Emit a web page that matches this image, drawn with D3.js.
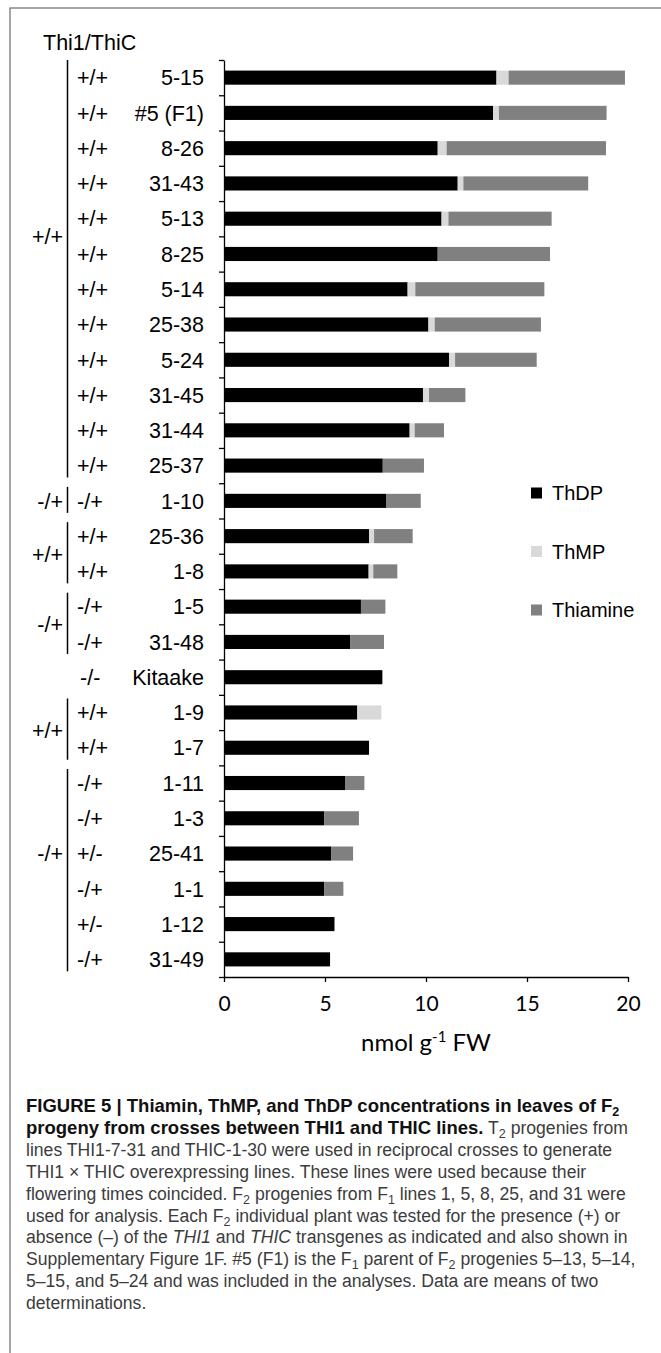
<!DOCTYPE html>
<html>
<head>
<meta charset="utf-8">
<script src="https://cdn.jsdelivr.net/npm/d3@7"></script>
<style>
  body { margin: 0; background: #fff; }
  svg { display: block; }
</style>
</head>
<body>
<svg id="chart" width="661" height="1353"></svg>
<script>
'use strict';

// F2 lines, top to bottom
const lines = ['5-15', '#5 (F1)', '8-26', '31-43', '5-13', '8-25', '5-14', '25-38', '5-24',
  '31-45', '31-44', '25-37', '1-10', '25-36', '1-8', '1-5', '31-48', 'Kitaake', '1-9', '1-7',
  '1-11', '1-3', '25-41', '1-1', '1-12', '31-49'];
const genotypes = ['+/+', '+/+', '+/+', '+/+', '+/+', '+/+', '+/+', '+/+', '+/+', '+/+', '+/+',
  '+/+', '-/+', '+/+', '+/+', '-/+', '-/+', '-/-', '+/+', '+/+', '-/+', '-/+', '+/-', '-/+',
  '+/-', '-/+'];

// nmol g-1 FW
const thdp = [13.49, 13.32, 10.58, 11.57, 10.77, 10.58, 9.09, 10.12, 11.15, 9.85, 9.19, 7.86,
  8.02, 7.18, 7.16, 6.78, 6.24, 7.84, 6.60, 7.18, 5.99, 4.97, 5.30, 4.97, 5.47, 5.25];
const thmp = [0.60, 0.29, 0.44, 0.28, 0.34, 0, 0.38, 0.31, 0.29, 0.30, 0.25, 0,
  0, 0.25, 0.23, 0, 0, 0, 1.19, 0, 0, 0, 0, 0, 0, 0];
const thiamine = [5.76, 5.33, 7.89, 6.18, 5.11, 5.56, 6.39, 5.26, 4.04, 1.80, 1.45, 2.04,
  1.72, 1.91, 1.19, 1.21, 1.68, 0, 0, 0, 0.96, 1.71, 1.09, 0.94, 0, 0];

// parent genotype brackets (row index ranges)
const groupLabels = ['+/+', '-/+', '+/+', '-/+', '+/+', '-/+'];
const groupFirst = [0, 12, 13, 15, 18, 20];
const groupLast = [11, 12, 14, 16, 19, 25];
const groupLabelRow = [4.5, 12, 13.5, 15.5, 18.5, 22];

const seriesKeys = ['ThDP', 'ThMP', 'Thiamine'];
const seriesColors = ['#000000', '#d9d9d9', '#808080'];
const xTicks = [0, 5, 10, 15, 20];

const svg = d3.select('#chart');
const labelFont = '"Liberation Sans", Arial, sans-serif';

// frame
svg.append('rect')
  .attr('x', 10).attr('y', 8)
  .attr('width', 700).attr('height', 1400)
  .attr('fill', 'none')
  .attr('stroke', '#777')
  .attr('stroke-width', 1.3);

const x = d3.scaleLinear().domain([0, 20]).range([224, 628]);
const y = d3.scaleBand().domain(lines).range([60, 977]).paddingInner(0.6).paddingOuter(0.3);
const rowEdge = d3.scaleLinear().domain([0, lines.length]).range([60, 977]);

const table = lines.map((name, i) => ({name: name, ThDP: thdp[i], ThMP: thmp[i], Thiamine: thiamine[i]}));
const stacked = d3.stack().keys(seriesKeys)(table);

svg.append('g')
  .selectAll('g')
  .data(stacked)
  .join('g')
  .attr('fill', (d, i) => seriesColors[i])
  .selectAll('rect')
  .data(d => d.filter(p => p[1] - p[0] > 0))
  .join('rect')
  .attr('x', d => x(d[0]))
  .attr('width', d => x(d[1]) - x(d[0]))
  .attr('y', d => y(d.data.name))
  .attr('height', y.bandwidth());

// value axis
const xAxis = svg.append('g')
  .attr('transform', `translate(0,${rowEdge(lines.length)})`)
  .call(d3.axisBottom(x).tickValues(xTicks).tickSize(5).tickSizeOuter(0).tickPadding(14));
xAxis.selectAll('text')
  .attr('font-family', 'Lato, sans-serif')
  .attr('font-size', 21)
  .attr('fill', '#000');
xAxis.selectAll('line, path').attr('stroke', '#000').attr('stroke-width', 1.3);

// category axis with ticks between rows
const yAxis = svg.append('g')
  .attr('transform', `translate(${x(0)},0)`)
  .call(d3.axisLeft(rowEdge).tickValues(d3.range(lines.length + 1)).tickFormat('').tickSize(5).tickSizeOuter(0));
yAxis.selectAll('line, path').attr('stroke', '#000').attr('stroke-width', 1.3);

svg.append('text')
  .attr('x', x(10)).attr('y', 1051)
  .attr('text-anchor', 'middle')
  .attr('font-family', 'Lato, sans-serif')
  .attr('font-size', 24)
  .call(t => {
    t.append('tspan').text('nmol g');
    t.append('tspan').attr('dy', -9).attr('font-size', 15).text('-1');
    t.append('tspan').attr('dy', 9).text(' FW');
  });

// row labels
const rows = svg.append('g')
  .attr('font-family', labelFont)
  .attr('font-size', 21.5)
  .attr('fill', '#000');

rows.selectAll('text.line')
  .data(lines)
  .join('text')
  .attr('class', 'line')
  .attr('x', 204)
  .attr('y', d => y(d) + y.bandwidth() / 2)
  .attr('dy', '0.36em')
  .attr('text-anchor', 'end')
  .text(d => d);

rows.selectAll('text.geno')
  .data(genotypes)
  .join('text')
  .attr('class', 'geno')
  .attr('x', (d, i) => lines[i] === 'Kitaake' ? 80 : 77)
  .attr('y', (d, i) => y(lines[i]) + y.bandwidth() / 2)
  .attr('dy', '0.36em')
  .text(d => d);

const rowMid = r => rowEdge(r + 0.5);

rows.selectAll('line.bracket')
  .data(groupLabels)
  .join('line')
  .attr('class', 'bracket')
  .attr('x1', 67.5).attr('x2', 67.5)
  .attr('y1', (d, i) => i === 0 ? rowEdge(0) : rowMid(groupFirst[i]) - 14)
  .attr('y2', (d, i) => rowMid(groupLast[i]) + 12)
  .attr('stroke', '#000')
  .attr('stroke-width', 1.5);

rows.selectAll('text.group')
  .data(groupLabels)
  .join('text')
  .attr('class', 'group')
  .attr('x', 63)
  .attr('y', (d, i) => rowMid(groupLabelRow[i]))
  .attr('dy', '0.36em')
  .attr('text-anchor', 'end')
  .text(d => d);

svg.append('text')
  .attr('x', 43).attr('y', 42)
  .attr('dy', '0.36em')
  .attr('font-family', labelFont)
  .attr('font-size', 21.5)
  .text('Thi1/ThiC');

// legend
const legend = svg.append('g')
  .selectAll('g')
  .data(seriesKeys)
  .join('g')
  .attr('transform', (d, i) => `translate(531,${493 + i * 58.5})`);
legend.append('rect')
  .attr('x', 0).attr('y', -5.5)
  .attr('width', 11).attr('height', 11)
  .attr('fill', (d, i) => seriesColors[i]);
legend.append('text')
  .attr('x', 21)
  .attr('dy', '0.36em')
  .attr('font-family', labelFont)
  .attr('font-size', 20)
  .text(d => d);

// caption
const captionLines = [
  [{t: 'FIGURE 5 | Thiamin, ThMP, and ThDP concentrations in leaves of F', b: 1}, {t: '2', b: 1, sub: 1}],
  [{t: 'progeny from crosses between THI1 and THIC lines.', b: 1}, {t: ' T'}, {t: '2', sub: 1}, {t: ' progenies from'}],
  [{t: 'lines THI1-7-31 and THIC-1-30 were used in reciprocal crosses to generate'}],
  [{t: 'THI1 \u00d7 THIC overexpressing lines. These lines were used because their'}],
  [{t: 'flowering times coincided. F'}, {t: '2', sub: 1}, {t: ' progenies from F'}, {t: '1', sub: 1}, {t: ' lines 1, 5, 8, 25, and 31 were'}],
  [{t: 'used for analysis. Each F'}, {t: '2', sub: 1}, {t: ' individual plant was tested for the presence (+) or'}],
  [{t: 'absence (\u2013) of the '}, {t: 'THI1', i: 1}, {t: ' and '}, {t: 'THIC', i: 1}, {t: ' transgenes as indicated and also shown in'}],
  [{t: 'Supplementary Figure 1F. #5 (F1) is the F'}, {t: '1', sub: 1}, {t: ' parent of F'}, {t: '2', sub: 1}, {t: ' progenies 5\u201313, 5\u201314,'}],
  [{t: '5\u201315, and 5\u201324 and was included in the analyses. Data are means of two'}],
  [{t: 'determinations.'}]
];

const caption = svg.append('g')
  .attr('font-family', labelFont)
  .attr('font-size', 17.6)
  .attr('fill', '#3c3c3c');

captionLines.forEach((parts, li) => {
  const t = caption.append('text')
    .attr('x', 26)
    .attr('y', 1112 + li * 21.9);
  parts.forEach((p, k) => {
    const s = t.append('tspan').text(p.t);
    if (p.b) s.attr('font-weight', 'bold').attr('font-size', 18.5).attr('fill', '#111');
    if (p.i) s.attr('font-style', 'italic');
    if (p.sub) s.attr('font-size', 12.5).attr('dy', 4);
    else if (k > 0 && parts[k - 1].sub) s.attr('dy', -4);
  });
});
</script>
</body>
</html>
